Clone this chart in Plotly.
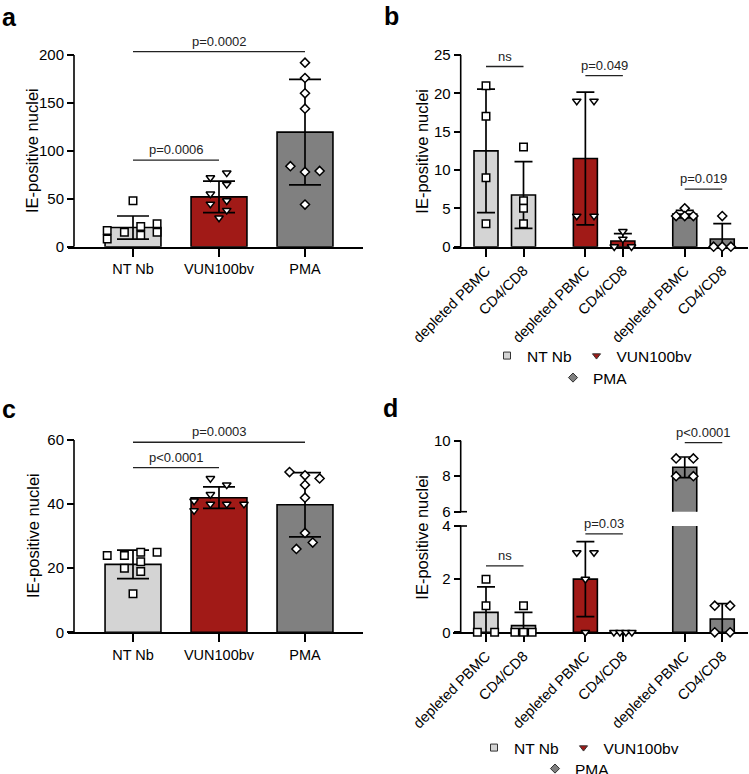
import plotly.graph_objects as go

W, H = 749, 774
FONT = "Arial, Liberation Sans, sans-serif"

GROUPS = ["NT Nb", "VUN100bv", "PMA"]
SUBSETS = ["depleted PBMC", "CD4/CD8"]
COLORS = ["#D4D4D4", "#A11A17", "#808080"]
SYMBOLS = ["square", "triangle-down", "diamond"]

# panel a: IE-positive nuclei per condition (mean, SD, individual wells)
a_mean = [20, 52, 119.5]
a_sd = [12, 16.4, 55]
a_points = [
    [17, 8, 15, 21, 12, 24, 15, 48],
    [72, 77, 65, 55, 44.5, 48, 38, 30],
    [192, 176, 160, 144, 84, 78, 79, 44],
]
a_jitter = [
    [-0.3, -0.3, -0.1, 0.09, 0.09, 0.28, 0.28, 0],
    [-0.1, 0.09, 0.09, -0.1, -0.1, 0.09, 0.09, 0],
    [0, 0, 0, 0, -0.17, 0, 0.17, 0],
]
a_sig_pairs = [(0, 1), (0, 2)]
a_sig_y = [90.4, 203.5]
a_sig_text = ["p=0.0006", "p=0.0002"]

# panel b: depleted PBMC vs CD4/CD8 for each group
b_mean = [12.5, 6.75, 11.5, 0.75, 4.25, 1.0]
b_sd = [8.06, 4.35, 8.66, 0.96, 0.5, 2.0]
b_points = [
    [21, 17, 9, 3],
    [13, 6, 5, 3],
    [19, 19, 4, 4],
    [2, 1, 0, 0],
    [5, 4, 4, 4],
    [4, 0, 0, 0],
]
b_jitter = [
    [0, 0, 0, 0],
    [0, 0, 0, 0],
    [-0.23, 0.23, -0.23, 0.23],
    [0, 0, -0.23, 0.23],
    [0, -0.23, 0, 0.23],
    [0, -0.23, 0, 0.23],
]
b_sig_pairs = [(0, 1), (2, 3), (4, 5)]
b_sig_y = [23.5, 22.3, 7.5]
b_sig_text = ["ns", "p=0.049", "p=0.019"]

# panel c
c_mean = [21.2, 42, 39.8]
c_sd = [4.45, 3.35, 10.05]
c_points = [
    [24, 24, 25, 25, 20, 22, 19, 12],
    [48, 46, 43, 41, 38, 40, 40, 40],
    [50, 49, 48, 46, 42, 31, 28, 26],
]
c_jitter = [
    [-0.3, -0.1, 0.09, 0.28, -0.1, 0.09, 0.09, 0],
    [-0.1, 0.09, -0.1, -0.29, -0.29, -0.1, 0.09, 0.29],
    [-0.18, 0, 0.17, 0, 0, 0, 0.09, -0.1],
]
c_sig_pairs = [(0, 1), (0, 2)]
c_sig_y = [51.4, 59.3]
c_sig_text = ["p<0.0001", "p=0.0003"]

# panel d (broken y axis 0-4 / 6-10)
d_mean = [0.75, 0.25, 2.0, 0.0, 8.5, 0.5]
d_sd = [0.96, 0.5, 1.41, 0.0, 0.58, 0.58]
d_points = [
    [2, 1, 0, 0],
    [1, 0, 0, 0],
    [3, 3, 2, 0],
    [0, 0, 0, 0],
    [9, 9, 8, 8],
    [1, 1, 0, 0],
]
d_jitter = [
    [0, 0, -0.23, 0.23],
    [0, -0.23, 0, 0.23],
    [-0.23, 0.23, 0, 0],
    [-0.24, -0.08, 0.08, 0.24],
    [-0.23, 0.23, -0.23, 0.23],
    [-0.2, 0.21, -0.2, 0.21],
]
d_sig_pairs = [(0, 1), (2, 3), (4, 5)]
d_sig_y = [2.5, 3.7, 9.89]
d_sig_text = ["ns", "p=0.03", "p<0.0001"]

GROUP_GAP = 2.65


def px(x):
    return x / W


def py(y):
    return 1 - y / H


fig = go.Figure()
shapes = []
annotations = []


def add_bars(xs, means, sds, points, jitter, colors, symbols, xa, ya, width, cap, keep=None):
    fig.add_trace(
        go.Bar(
            x=xs, y=means, width=width, xaxis=xa, yaxis=ya,
            marker=dict(color=colors, line=dict(color="black", width=1.6)),
            error_y=dict(type="data", array=sds, color="black", thickness=1.7, width=cap),
            showlegend=False, hoverinfo="skip",
        )
    )
    for i, vals in enumerate(points):
        xx, yy = [], []
        for v, j in zip(vals, jitter[i]):
            if keep is None or keep(v):
                xx.append(xs[i] + j)
                yy.append(v)
        if not xx:
            continue
        fig.add_trace(
            go.Scatter(
                x=xx, y=yy, mode="markers", xaxis=xa, yaxis=ya, cliponaxis=False,
                marker=dict(symbol=symbols[i], size=7.5 if symbols[i] != "diamond" else 7,
                            color="white", line=dict(color="black", width=1.5)),
                showlegend=False, hoverinfo="skip",
            )
        )


def add_sig(xs, pairs, ys, texts, xa, ya_of):
    for (i, j), y, t in zip(pairs, ys, texts):
        ya = ya_of(y)
        shapes.append(dict(type="line", xref=xa, yref=ya, x0=xs[i], x1=xs[j], y0=y, y1=y,
                           line=dict(color="#222", width=1.3)))
        annotations.append(dict(xref=xa, yref=ya, x=(xs[i] + xs[j]) / 2, y=y, text=t,
                                showarrow=False, yanchor="bottom", yshift=1,
                                font=dict(size=13, color="#222")))


def y_line(pos_px, ya, y0, y1):
    shapes.append(dict(type="line", xref="paper", yref=ya, x0=px(pos_px), x1=px(pos_px),
                       y0=y0, y1=y1, line=dict(color="black", width=1.6)))


xs_ac = list(range(len(GROUPS)))
xs_bd = [g * GROUP_GAP + s for g in range(len(GROUPS)) for s in range(len(SUBSETS))]
bd_colors = [c for c in COLORS for _ in SUBSETS]
bd_symbols = [s for s in SYMBOLS for _ in SUBSETS]
bd_labels = [s for _ in GROUPS for s in SUBSETS]

add_bars(xs_ac, a_mean, a_sd, a_points, a_jitter, COLORS, SYMBOLS, "x", "y", 0.65, 16)
add_sig(xs_ac, a_sig_pairs, a_sig_y, a_sig_text, "x", lambda v: "y")
add_bars(xs_bd, b_mean, b_sd, b_points, b_jitter, bd_colors, bd_symbols, "x2", "y2", 0.64, 9)
add_sig(xs_bd, b_sig_pairs, b_sig_y, b_sig_text, "x2", lambda v: "y2")
add_bars(xs_ac, c_mean, c_sd, c_points, c_jitter, COLORS, SYMBOLS, "x3", "y3", 0.65, 16)
add_sig(xs_ac, c_sig_pairs, c_sig_y, c_sig_text, "x3", lambda v: "y3")
add_bars(xs_bd, d_mean, d_sd, d_points, d_jitter, bd_colors, bd_symbols, "x4", "y4", 0.64, 9,
         keep=lambda v: v <= 4)
add_bars(xs_bd, d_mean, d_sd, d_points, d_jitter, bd_colors, bd_symbols, "x4", "y5", 0.64, 9,
         keep=lambda v: v >= 6)
add_sig(xs_bd, d_sig_pairs, d_sig_y, d_sig_text, "x4", lambda v: "y5" if v >= 6 else "y4")

# legend-only entries for panels b and d
for k, (name, col, sym) in enumerate(zip(GROUPS, COLORS, SYMBOLS)):
    for leg_pair, xa, ya in [(("legend", "legend2"), "x2", "y2"), (("legend3", "legend4"), "x4", "y4")]:
        fig.add_trace(
            go.Scatter(
                x=[None], y=[None], mode="markers", name=name, xaxis=xa, yaxis=ya,
                legend=leg_pair[0] if k < 2 else leg_pair[1],
                marker=dict(symbol=sym, size=7, color=col, line=dict(color="#333", width=1)),
            )
        )

# axis lines (y) stop at the last tick like the original
y_line(74, "y", 0, 200)
y_line(74, "y3", 0, 60)
y_line(460.7, "y2", 0, 25)
y_line(460.7, "y4", 0, 4)
y_line(460.7, "y5", 6, 10)
# break marks on panel d
for yy in [511.7, 526]:
    shapes.append(dict(type="line", xref="paper", yref="paper", x0=px(460.7), x1=px(467),
                       y0=py(yy), y1=py(yy), line=dict(color="black", width=1.6)))

xcommon = dict(showgrid=False, zeroline=False, showline=True, linecolor="black", linewidth=1.6,
               ticks="outside", ticklen=8, tickwidth=1.6, tickcolor="black",
               tickfont=dict(size=14.5), layer="below traces")
ycommon = dict(showgrid=False, zeroline=False, showline=False, anchor="free",
               ticks="outside", ticklen=7, tickwidth=1.6, tickcolor="black",
               tickfont=dict(size=15), layer="below traces")

fig.update_layout(
    xaxis=dict(xcommon, domain=[px(68), px(363)], range=[-(133 - 68) / 86, 2 + (363 - 305) / 86],
               tickvals=xs_ac, ticktext=GROUPS, anchor="y"),
    yaxis=dict(ycommon, domain=[py(246.7), py(40.6)], range=[0, 215], position=px(74),
               tickvals=[0, 50, 100, 150, 200]),
    xaxis2=dict(xcommon, domain=[px(453), px(748)], range=[-(486 - 453) / 37.5, (748 - 486) / 37.5],
                tickvals=xs_bd, ticktext=bd_labels, tickangle=-45, anchor="y2"),
    yaxis2=dict(ycommon, domain=[py(246.7), py(43.5)], range=[0, 26.5], position=px(460.7),
                tickvals=[0, 5, 10, 15, 20, 25]),
    xaxis3=dict(xcommon, domain=[px(68), px(363)], range=[-(133 - 68) / 86, 2 + (363 - 305) / 86],
                tickvals=xs_ac, ticktext=GROUPS, anchor="y3"),
    yaxis3=dict(ycommon, domain=[py(632.3), py(427.2)], range=[0, 64], position=px(74),
                tickvals=[0, 20, 40, 60]),
    xaxis4=dict(xcommon, domain=[px(453), px(748)], range=[-(486 - 453) / 37.5, (748 - 486) / 37.5],
                tickvals=xs_bd, ticktext=bd_labels, tickangle=-45, anchor="y4"),
    yaxis4=dict(ycommon, domain=[py(632.3), py(526)], range=[0, 4], position=px(460.7),
                tickvals=[0, 2, 4]),
    yaxis5=dict(ycommon, domain=[py(511.7), py(431.8)], range=[6, 10.5], position=px(460.7),
                tickvals=[6, 8, 10]),
)

legend_common = dict(orientation="h", xanchor="center", yanchor="top", font=dict(size=15.5),
                     bgcolor="rgba(0,0,0,0)", itemclick=False)
fig.update_layout(
    legend=dict(legend_common, x=px(592), y=py(339)),
    legend2=dict(legend_common, x=px(593), y=py(361)),
    legend3=dict(legend_common, x=px(579), y=py(731)),
    legend4=dict(legend_common, x=px(575), y=py(752)),
)

# y axis titles and panel letters
for xc, yc in [(32, 151), (421.7, 151), (33, 536), (421.7, 537)]:
    annotations.append(dict(xref="paper", yref="paper", x=px(xc), y=py(yc), text="IE-positive nuclei",
                            textangle=-90, showarrow=False, font=dict(size=16.5),
                            xanchor="center", yanchor="middle"))
for letter, xl, yl in [("a", 0, 1), ("b", 382, 0), ("c", 0, 393), ("d", 381, 392)]:
    annotations.append(dict(xref="paper", yref="paper", x=px(xl), y=py(yl), text="<b>%s</b>" % letter,
                            showarrow=False, xanchor="left", yanchor="top", font=dict(size=25)))

fig.update_layout(
    width=W, height=H, margin=dict(l=0, r=0, t=0, b=0, autoexpand=False),
    plot_bgcolor="white", paper_bgcolor="white",
    font=dict(family=FONT, size=15, color="black"),
    shapes=shapes, annotations=annotations,
)

# the page's default 8px body margin would shift the whole figure
fig.write_html("out.html", config={"displayModeBar": False},
               post_script="document.body.style.margin = '0';")
